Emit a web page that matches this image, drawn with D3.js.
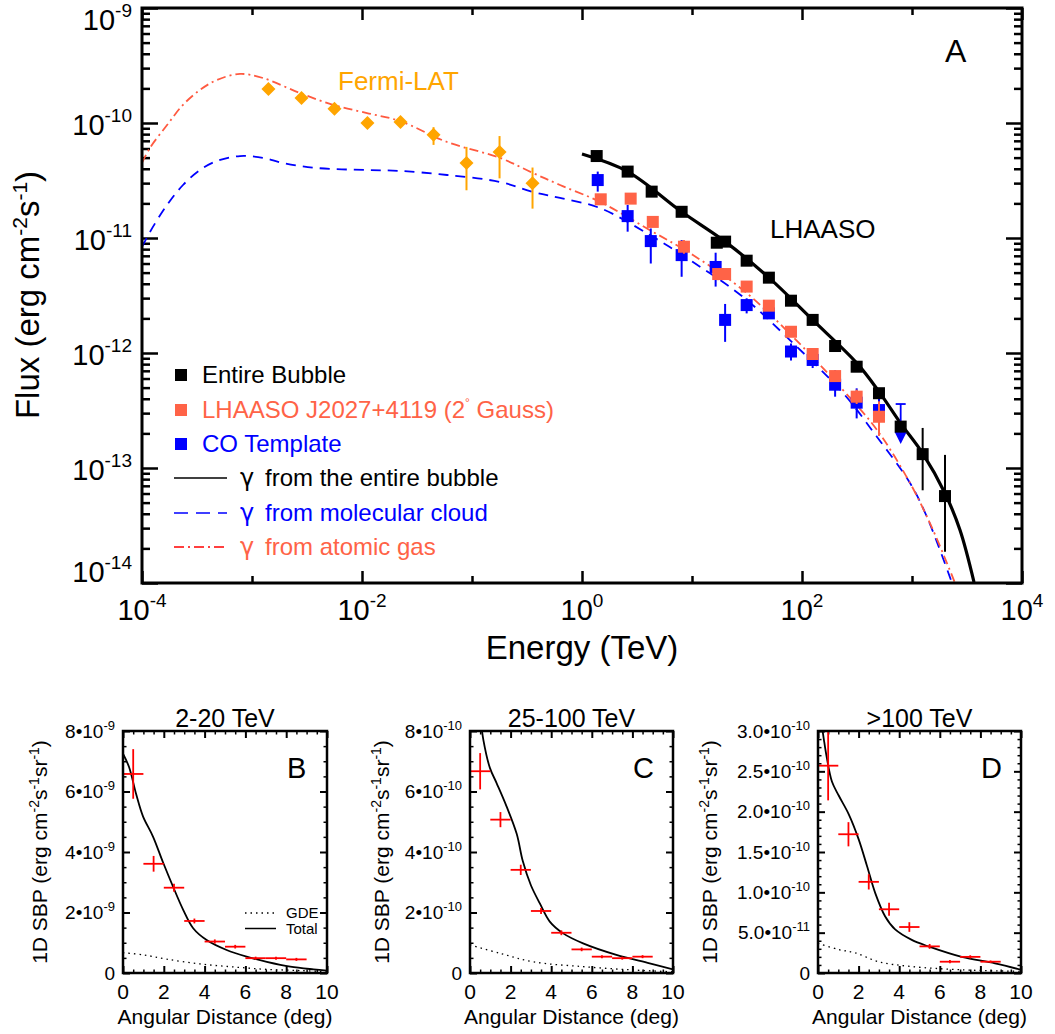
<!DOCTYPE html>
<html><head><meta charset="utf-8">
<script src="https://cdn.jsdelivr.net/npm/d3@7/dist/d3.min.js"></script>
<style>
html,body{margin:0;padding:0;background:#fff;}
svg{display:block;}
text{font-family:"Liberation Sans",Arial,Helvetica,sans-serif;fill:#000;}
</style></head>
<body>
<svg id="chart" width="1055" height="1034" xmlns="http://www.w3.org/2000/svg"></svg>
<script>
// ================= DATA =================
// Panel A : spectral energy distribution
const fermiE  = [1.41e-3, 2.82e-3, 5.62e-3, 1.12e-2, 2.24e-2, 4.47e-2, 8.91e-2, 0.178, 0.355];
const fermiF  = [1.98e-10, 1.65e-10, 1.33e-10, 1.0e-10, 1.02e-10, 7.9e-11, 4.5e-11, 5.6e-11, 3.0e-11];
const fermiLo = [1.85e-10, 1.55e-10, 1.24e-10, 0.93e-10, 0.93e-10, 6.45e-11, 2.6e-11, 3.3e-11, 1.8e-11];
const fermiHi = [2.12e-10, 1.76e-10, 1.42e-10, 1.08e-10, 1.12e-10, 9.2e-11, 6.2e-11, 7.7e-11, 4.1e-11];

const bubbleE  = [1.36, 2.6, 4.3, 8.05, 16.8, 20, 31.4, 50, 79.4, 125, 200, 314, 501, 789, 1250, 1995];
const bubbleF  = [5.16e-11, 3.78e-11, 2.53e-11, 1.69e-11, 9.1e-12, 9.3e-12, 6.35e-12, 4.52e-12, 2.85e-12, 1.94e-12, 1.15e-12, 7.6e-13, 4.47e-13, 2.29e-13, 1.32e-13, 5.7e-14];
const bubbleLo = [4.9e-11, 3.6e-11, 2.4e-11, 1.6e-11, 8.6e-12, 8.8e-12, 6.0e-12, 4.3e-12, 2.7e-12, 1.83e-12, 1.07e-12, 7.0e-13, 4.1e-13, 2.05e-13, 6.4e-14, 1.87e-14];
const bubbleHi = [5.4e-11, 3.95e-11, 2.65e-11, 1.78e-11, 9.6e-12, 9.8e-12, 6.7e-12, 4.75e-12, 3.0e-12, 2.05e-12, 1.23e-12, 8.2e-13, 4.9e-13, 2.55e-13, 2.23e-13, 1.3e-13];

const j2027E  = [1.48, 2.77, 4.4, 8.45, 17.3, 20, 31.4, 50, 79.4, 125, 200, 314, 501];
const j2027F  = [2.17e-11, 2.2e-11, 1.38e-11, 8.4e-12, 4.86e-12, 4.86e-12, 3.78e-12, 2.58e-12, 1.53e-12, 9.8e-13, 6.3e-13, 4.17e-13, 2.79e-13];
const j2027Lo = [2.0e-11, 2.05e-11, 1.27e-11, 7.3e-12, 4.3e-12, 4.5e-12, 3.5e-12, 2.4e-12, 1.42e-12, 9.0e-13, 5.7e-13, 3.6e-13, 1.9e-13];
const j2027Hi = [2.35e-11, 2.38e-11, 1.5e-11, 9.6e-12, 5.4e-12, 5.25e-12, 4.05e-12, 2.77e-12, 1.65e-12, 1.07e-12, 7.0e-13, 4.8e-13, 3.8e-13];

const coE  = [1.39, 2.6, 4.22, 8.05, 16.4, 20, 31.4, 50, 79.4, 125, 200, 314, 501];
const coF  = [3.19e-11, 1.55e-11, 9.4e-12, 7.1e-12, 5.6e-12, 1.94e-12, 2.61e-12, 2.21e-12, 1.03e-12, 8.7e-13, 5.3e-13, 3.7e-13, 3.19e-13];
const coLo = [2.53e-11, 1.135e-11, 6.0e-12, 4.6e-12, 3.78e-12, 1.25e-12, 2.21e-12, 2.0e-12, 8.6e-13, 7.4e-13, 4.17e-13, 2.7e-13, 2.3e-13];
const coHi = [3.78e-11, 1.94e-11, 1.21e-11, 9.6e-12, 7.45e-12, 2.67e-12, 2.99e-12, 2.45e-12, 1.21e-12, 9.3e-13, 7.1e-13, 4.93e-13, 4.2e-13];
const coUpperE = [789];
const coUpperF = [3.6e-13];

// model curves
const bubbleModelE = [1.0, 2.6, 8.05, 20, 50, 125, 314, 501, 789, 1250, 2000, 2730, 3660];
const bubbleModelF = [5.37e-11, 3.78e-11, 1.69e-11, 9.3e-12, 4.52e-12, 1.94e-12, 8.2e-13, 4.61e-13, 2.44e-13, 1.34e-13, 6.0e-14, 2.89e-14, 1.02e-14];

const atomicE = [1.0e-4, 1.18e-4, 1.69e-4, 2.36e-4, 3.37e-4, 4.81e-4, 7.78e-4, 1.26e-3, 2.73e-3, 5.45e-3, 1.11e-2, 2.21e-2, 5.93e-2, 0.18, 0.359, 0.631, 1.46, 4.15, 10.2, 29.1, 82.8, 236, 481, 959, 1552, 2460];
const atomicF = [4.49e-11, 6.07e-11, 9.6e-11, 1.44e-10, 1.94e-10, 2.37e-10, 2.67e-10, 2.46e-10, 1.82e-10, 1.44e-10, 1.22e-10, 1.04e-10, 6.84e-11, 4.97e-11, 3.67e-11, 2.89e-11, 2.06e-11, 1.17e-11, 7.11e-12, 3.53e-12, 1.38e-12, 4.76e-13, 2.14e-13, 7.41e-14, 2.89e-14, 1.0e-14];

const molecE = [1.0e-4, 1.18e-4, 1.69e-4, 2.36e-4, 3.37e-4, 4.81e-4, 7.78e-4, 1.26e-3, 1.91e-3, 3.9e-3, 1.11e-2, 2.21e-2, 5.93e-2, 0.18, 0.359, 0.631, 1.46, 4.15, 10.2, 29.1, 82.8, 236, 481, 959, 1368, 2312];
const molecF = [8.36e-12, 1.127e-11, 1.94e-11, 2.89e-11, 3.9e-11, 4.68e-11, 5.16e-11, 4.97e-11, 4.49e-11, 4.06e-11, 3.9e-11, 3.83e-11, 3.53e-11, 3.07e-11, 2.51e-11, 2.23e-11, 1.82e-11, 1.06e-11, 6.18e-12, 3.07e-12, 1.22e-12, 4.49e-13, 1.86e-13, 7.41e-14, 3.75e-14, 1.0e-14];

const xTickExp = ['-4', '-2', '0', '2', '4'];
const yTickExp = ['-9', '-10', '-11', '-12', '-13', '-14'];

const legendLabels = ['Entire Bubble', 'LHAASO J2027+4119 (2', 'CO Template',
  'from the entire bubble', 'from molecular cloud', 'from atomic gas'];

// Panels B-D : 1D surface brightness profiles
const sbpCenters = [0.5, 1.5, 2.5, 3.5, 4.5, 5.5, 6.5, 7.5, 8.5];
const sbpB    = [6.58e-9, 3.61e-9, 2.82e-9, 1.72e-9, 1.04e-9, 0.87e-9, 0.49e-9, 0.49e-9, 0.45e-9];
const sbpBErr = [0.82e-9, 0.26e-9, 0.13e-9, 0.08e-9, 0.07e-9, 0.06e-9, 0.05e-9, 0.05e-9, 0.05e-9];
const totalBDeg = [0, 0.3, 0.65, 0.98, 1.47, 1.96, 2.45, 2.95, 3.44, 4.1, 5.08, 6.06, 7.05, 8.2, 9.34, 10];
const totalBVal = [7.25e-9, 6.8e-9, 5.9e-9, 5.18e-9, 4.51e-9, 3.66e-9, 2.86e-9, 2.09e-9, 1.48e-9, 1.09e-9, 0.76e-9, 0.54e-9, 0.37e-9, 0.21e-9, 0.12e-9, 0.08e-9];
const gdeBDeg = [0, 1, 2.13, 3.77, 5.41, 7.05, 8.69, 10];
const gdeBVal = [0.67e-9, 0.6e-9, 0.46e-9, 0.3e-9, 0.2e-9, 0.12e-9, 0.08e-9, 0.04e-9];

const sbpC    = [6.67e-10, 5.07e-10, 3.41e-10, 2.05e-10, 1.33e-10, 0.78e-10, 0.54e-10, 0.49e-10, 0.54e-10];
const sbpCErr = [0.6e-10, 0.25e-10, 0.17e-10, 0.1e-10, 0.08e-10, 0.06e-10, 0.05e-10, 0.05e-10, 0.05e-10];
const totalCDeg = [0, 0.3, 0.66, 0.98, 1.31, 1.8, 2.3, 2.6, 3.0, 3.44, 3.93, 4.59, 5.57, 7.21, 8.85, 10];
const totalCVal = [10.5e-10, 9.5e-10, 7.7e-10, 6.78e-10, 6.28e-10, 5.51e-10, 4.6e-10, 3.7e-10, 2.9e-10, 2.3e-10, 1.7e-10, 1.31e-10, 0.98e-10, 0.6e-10, 0.32e-10, 0.12e-10];
const gdeCDeg = [0, 1.48, 3.11, 5.57, 8.03, 10];
const gdeCVal = [0.93e-10, 0.65e-10, 0.37e-10, 0.21e-10, 0.1e-10, 0.04e-10];

const sbpD    = [2.57e-10, 1.72e-10, 1.13e-10, 0.79e-10, 0.57e-10, 0.33e-10, 0.14e-10, 0.20e-10, 0.14e-10];
const sbpDErr = [0.43e-10, 0.15e-10, 0.095e-10, 0.08e-10, 0.06e-10, 0.03e-10, 0.02e-10, 0.02e-10, 0.015e-10];
const totalDDeg = [0, 0.28, 0.44, 0.69, 1.02, 1.51, 2.0, 2.41, 2.82, 3.31, 3.8, 4.62, 5.44, 7.08, 8.72, 10];
const totalDVal = [3.4e-10, 2.91e-10, 2.66e-10, 2.37e-10, 2.2e-10, 1.97e-10, 1.66e-10, 1.33e-10, 0.99e-10, 0.70e-10, 0.54e-10, 0.41e-10, 0.33e-10, 0.20e-10, 0.12e-10, 0.04e-10];
const gdeDDeg = [0, 1.02, 1.84, 2.98, 4.62, 7.08, 10];
const gdeDVal = [0.37e-10, 0.29e-10, 0.25e-10, 0.14e-10, 0.08e-10, 0.04e-10, 0.02e-10];

const tickB = [0, 2e-9, 4e-9, 6e-9, 8e-9];
const tickBLabels = [['0', ''], ['2•10', '-9'], ['4•10', '-9'], ['6•10', '-9'], ['8•10', '-9']];
const tickC = [0, 2e-10, 4e-10, 6e-10, 8e-10];
const tickCLabels = [['0', ''], ['2•10', '-10'], ['4•10', '-10'], ['6•10', '-10'], ['8•10', '-10']];
const tickD = [0, 0.5e-10, 1.0e-10, 1.5e-10, 2.0e-10, 2.5e-10, 3.0e-10];
const tickDLabels = [['0', ''], ['5.0•10', '-11'], ['1.0•10', '-10'], ['1.5•10', '-10'], ['2.0•10', '-10'], ['2.5•10', '-10'], ['3.0•10', '-10']];
const distTicks = [0, 2, 4, 6, 8, 10];

// ================= DRAWING =================
const svg = d3.select('#chart');
svg.append('rect').attr('width', 1055).attr('height', 1034).attr('fill', '#fff');
const defs = svg.append('defs');

function rich(t, segs, size, supSize, raise) {
  let cur = 0;
  segs.forEach(s => {
    const off = s[1] ? -raise : 0;
    t.append('tspan').attr('dy', off - cur).attr('font-size', s[1] ? supSize : size).text(s[0]);
    cur = off;
  });
  return t;
}
function ticksOn(g, gen, tr, vals, size, sw) {
  const a = g.append('g').attr('transform', tr)
    .call(gen.tickValues(vals).tickSize(size).tickSizeOuter(0).tickFormat(''));
  a.select('.domain').remove();
  a.selectAll('line').attr('stroke', '#000').attr('stroke-width', sw);
}

// ---------- Panel A ----------
const M = {l: 142, r: 1022, t: 8, b: 583};
const x = d3.scaleLog().domain([1e-4, 1e4]).range([M.l, M.r]);
const y = d3.scaleLog().domain([1e-14, 1e-9]).range([M.b, M.t]);
const A = svg.append('g');
defs.append('clipPath').attr('id', 'clipA').append('rect')
  .attr('x', M.l).attr('y', M.t).attr('width', M.r - M.l).attr('height', M.b - M.t);

const xMajor = xTickExp.map(e => Math.pow(10, +e));
const xMinor = [1e-3, 1e-1, 1e1, 1e3];
const yMajor = yTickExp.map(e => Math.pow(10, +e));
const yMinor = [];
yMajor.slice(1).forEach(d => { for (let k = 2; k <= 9; k++) yMinor.push(d * k); });

ticksOn(A, d3.axisBottom(x), `translate(0,${M.b})`, xMajor, -12, 2.5);
ticksOn(A, d3.axisBottom(x), `translate(0,${M.b})`, xMinor, -7, 2.5);
ticksOn(A, d3.axisTop(x), `translate(0,${M.t})`, xMajor, -12, 2.5);
ticksOn(A, d3.axisTop(x), `translate(0,${M.t})`, xMinor, -7, 2.5);
ticksOn(A, d3.axisLeft(y), `translate(${M.l},0)`, yMajor, -16, 2.5);
ticksOn(A, d3.axisLeft(y), `translate(${M.l},0)`, yMinor, -8, 2.5);
ticksOn(A, d3.axisRight(y), `translate(${M.r},0)`, yMajor, -16, 2.5);
ticksOn(A, d3.axisRight(y), `translate(${M.r},0)`, yMinor, -8, 2.5);

// tick labels
xMajor.forEach((v, i) => {
  rich(A.append('text').attr('x', x(v)).attr('y', 620).attr('text-anchor', 'middle'),
    [['10', false], [xTickExp[i], true]], 29, 19, 13);
});
yMajor.forEach((v, i) => {
  const by = Math.min(Math.max(y(v) + 12, 30), 582);
  rich(A.append('text').attr('x', 132).attr('y', by).attr('text-anchor', 'end'),
    [['10', false], [yTickExp[i], true]], 29, 19, 13);
});

// axis titles
A.append('text').attr('x', 582).attr('y', 659).attr('text-anchor', 'middle').attr('font-size', 33).text('Energy (TeV)');
rich(A.append('text').attr('transform', 'translate(38.5,295) rotate(-90)').attr('text-anchor', 'middle'),
  [['Flux (erg cm', false], ['-2', true], ['s', false], ['-1', true], [')', false]], 33, 21, 12);

// model curves
const lineA = d3.line().x(d => x(d[0])).y(d => y(d[1])).curve(d3.curveCatmullRom.alpha(0.5));
const curves = A.append('g').attr('clip-path', 'url(#clipA)');
curves.append('path').datum(d3.zip(molecE, molecF)).attr('d', lineA)
  .attr('fill', 'none').attr('stroke', '#0000ff').attr('stroke-width', 1.8).attr('stroke-dasharray', '10,7');
curves.append('path').datum(d3.zip(atomicE, atomicF)).attr('d', lineA)
  .attr('fill', 'none').attr('stroke', '#ff5a40').attr('stroke-width', 1.8).attr('stroke-dasharray', '9,4,2,4');
curves.append('path').datum(d3.zip(bubbleModelE, bubbleModelF)).attr('d', lineA)
  .attr('fill', 'none').attr('stroke', '#000').attr('stroke-width', 3.2);

// points helper
function pointsA(E, F, Lo, Hi, color, errColor) {
  const g = A.append('g');
  E.forEach((e, i) => {
    g.append('line').attr('x1', x(e)).attr('x2', x(e)).attr('y1', y(Lo[i])).attr('y2', y(Hi[i]))
      .attr('stroke', errColor).attr('stroke-width', 2);
  });
  E.forEach((e, i) => {
    g.append('rect').attr('x', x(e) - 6).attr('y', y(F[i]) - 6).attr('width', 12).attr('height', 12).attr('fill', color);
  });
}
// Fermi
const fG = A.append('g');
fermiE.forEach((e, i) => {
  fG.append('line').attr('x1', x(e)).attr('x2', x(e)).attr('y1', y(fermiLo[i])).attr('y2', y(fermiHi[i]))
    .attr('stroke', '#ffa500').attr('stroke-width', 2);
  fG.append('path').attr('transform', `translate(${x(e)},${y(fermiF[i])})`)
    .attr('d', 'M0,-7L7,0L0,7L-7,0Z').attr('fill', '#ffa500');
});
// CO upper limit
coUpperE.forEach((e, i) => {
  const cx = x(e), cy = y(coUpperF[i]);
  A.append('line').attr('x1', cx - 5).attr('x2', cx + 5).attr('y1', cy).attr('y2', cy).attr('stroke', '#0000ff').attr('stroke-width', 1.8);
  A.append('line').attr('x1', cx).attr('x2', cx).attr('y1', cy).attr('y2', cy + 30).attr('stroke', '#0000ff').attr('stroke-width', 1.8);
  A.append('path').attr('d', `M${cx - 6},${cy + 28}L${cx + 6},${cy + 28}L${cx},${cy + 40}Z`).attr('fill', '#0000ff');
});
pointsA(coE, coF, coLo, coHi, '#0000ff', '#0000ff');
pointsA(j2027E, j2027F, j2027Lo, j2027Hi, '#ff6347', '#ff6347');
pointsA(bubbleE, bubbleF, bubbleLo, bubbleHi, '#000', '#000');

// frame
A.append('rect').attr('x', M.l).attr('y', M.t).attr('width', M.r - M.l).attr('height', M.b - M.t)
  .attr('fill', 'none').attr('stroke', '#000').attr('stroke-width', 3);

// annotations
A.append('text').attr('x', 338).attr('y', 90).attr('font-size', 26).style('fill', '#ffa500').text('Fermi-LAT');
A.append('text').attr('x', 770).attr('y', 238).attr('font-size', 26).text('LHAASO');
A.append('text').attr('x', 945).attr('y', 62).attr('font-size', 32).text('A');

// legend
const legRows = [375, 410, 444, 478, 513, 547];
const legColors = ['#000', '#ff6347', '#0000ff', '#000', '#0000ff', '#ff6347'];
const L = A.append('g');
[0, 1, 2].forEach(i => {
  L.append('rect').attr('x', 175).attr('y', legRows[i] - 6).attr('width', 12).attr('height', 12).attr('fill', legColors[i]);
  const t = L.append('text').attr('x', 202).attr('y', legRows[i] + 8).attr('font-size', 24).style('fill', legColors[i]);
  if (i === 1) {
    t.append('tspan').text(legendLabels[i]);
    t.append('tspan').attr('dy', -11).attr('font-size', 12).text('°');
    t.append('tspan').attr('dy', 11).text(' Gauss)');
  } else t.text(legendLabels[i]);
});
const legDash = [null, '14,8', '10,4,2,4'];
const legLineColors = ['#000', '#0000ff', '#ff0000'];
[3, 4, 5].forEach((r, k) => {
  const ln = L.append('line').attr('x1', 174).attr('x2', 227).attr('y1', legRows[r]).attr('y2', legRows[r])
    .attr('stroke', legLineColors[k]).attr('stroke-width', 1.5);
  if (legDash[k]) ln.attr('stroke-dasharray', legDash[k]);
  L.append('text').attr('x', 240).attr('y', legRows[r] + 8).attr('font-size', 24)
    .style('font-family', '"DejaVu Sans", sans-serif').style('fill', legColors[r]).text('γ');
  L.append('text').attr('x', 265).attr('y', legRows[r] + 8).attr('font-size', 24).style('fill', legColors[r]).text(legendLabels[r]);
});

// ---------- Panels B, C, D ----------
const panels = [
  {id: 'B', title: '2-20 TeV', left: 123, right: 327, ymax: 8e-9, ticks: tickB, labels: tickBLabels, minor: 0.5e-9,
   data: sbpB, err: sbpBErr, tDeg: totalBDeg, tVal: totalBVal, gDeg: gdeBDeg, gVal: gdeBVal, titleX: 47, legend: true},
  {id: 'C', title: '25-100 TeV', left: 470, right: 673, ymax: 8e-10, ticks: tickC, labels: tickCLabels, minor: 0.5e-10,
   data: sbpC, err: sbpCErr, tDeg: totalCDeg, tVal: totalCVal, gDeg: gdeCDeg, gVal: gdeCVal, titleX: 389, legend: false},
  {id: 'D', title: '>100 TeV', left: 818, right: 1021, ymax: 3e-10, ticks: tickD, labels: tickDLabels, minor: 0.1e-10,
   data: sbpD, err: sbpDErr, tDeg: totalDDeg, tVal: totalDVal, gDeg: gdeDDeg, gVal: gdeDVal, titleX: 717, legend: false}
];
const PT = 731, PB = 973;
panels.forEach(p => {
  const px = d3.scaleLinear().domain([0, 10]).range([p.left, p.right]);
  const py = d3.scaleLinear().domain([0, p.ymax]).range([PB, PT]);
  const g = svg.append('g');
  defs.append('clipPath').attr('id', 'clip' + p.id).append('rect')
    .attr('x', p.left).attr('y', PT).attr('width', p.right - p.left).attr('height', PB - PT);

  const xMin = d3.range(0, 10.001, 0.5).filter(v => v % 2 !== 0);
  const yMin = d3.range(0, p.ymax * 1.0001, p.minor).filter(v => !p.ticks.some(t => Math.abs(t - v) < p.minor * 0.01));
  ticksOn(g, d3.axisBottom(px), `translate(0,${PB})`, distTicks, -7, 2);
  ticksOn(g, d3.axisBottom(px), `translate(0,${PB})`, xMin, -3.5, 1.5);
  ticksOn(g, d3.axisTop(px), `translate(0,${PT})`, distTicks, -7, 2);
  ticksOn(g, d3.axisTop(px), `translate(0,${PT})`, xMin, -3.5, 1.5);
  ticksOn(g, d3.axisLeft(py), `translate(${p.left},0)`, p.ticks, -7, 2);
  ticksOn(g, d3.axisLeft(py), `translate(${p.left},0)`, yMin, -3.5, 1.5);
  ticksOn(g, d3.axisRight(py), `translate(${p.right},0)`, p.ticks, -7, 2);
  ticksOn(g, d3.axisRight(py), `translate(${p.right},0)`, yMin, -3.5, 1.5);

  const ln = d3.line().x(d => px(d[0])).y(d => py(d[1])).curve(d3.curveCatmullRom.alpha(0.5));
  const cg = g.append('g').attr('clip-path', `url(#clip${p.id})`);
  cg.append('path').datum(d3.zip(p.gDeg, p.gVal)).attr('d', ln).attr('fill', 'none')
    .attr('stroke', '#000').attr('stroke-width', 1.3).attr('stroke-dasharray', '1.5,4');
  cg.append('path').datum(d3.zip(p.tDeg, p.tVal)).attr('d', ln).attr('fill', 'none')
    .attr('stroke', '#000').attr('stroke-width', 1.8);
  sbpCenters.forEach((c, i) => {
    cg.append('line').attr('x1', px(c - 0.5)).attr('x2', px(c + 0.5)).attr('y1', py(p.data[i])).attr('y2', py(p.data[i]))
      .attr('stroke', '#ff0000').attr('stroke-width', 1.8);
    cg.append('line').attr('x1', px(c)).attr('x2', px(c)).attr('y1', py(p.data[i] - p.err[i])).attr('y2', py(p.data[i] + p.err[i]))
      .attr('stroke', '#ff0000').attr('stroke-width', 1.8);
  });

  g.append('rect').attr('x', p.left).attr('y', PT).attr('width', p.right - p.left).attr('height', PB - PT)
    .attr('fill', 'none').attr('stroke', '#000').attr('stroke-width', 2.5);

  // labels
  distTicks.forEach(v => g.append('text').attr('x', px(v)).attr('y', 998.5).attr('text-anchor', 'middle').attr('font-size', 21).text(v));
  p.ticks.forEach((v, i) => {
    const lab = p.labels[i];
    const t = g.append('text').attr('x', p.left - 8).attr('y', py(v) + 6.5).attr('text-anchor', 'end');
    if (lab[1]) rich(t, [[lab[0], false], [lab[1], true]], 19, 13, 8);
    else t.attr('font-size', 19).text(lab[0]);
  });
  g.append('text').attr('x', (p.left + p.right) / 2).attr('y', 1023.5).attr('text-anchor', 'middle').attr('font-size', 21)
    .text('Angular Distance (deg)');
  rich(g.append('text').attr('transform', `translate(${p.titleX},${(PT + PB) / 2}) rotate(-90)`).attr('text-anchor', 'middle'),
    [['1D SBP (erg cm', false], ['-2', true], ['s', false], ['-1', true], ['sr', false], ['-1', true], [')', false]], 21, 14, 8);
  g.append('text').attr('x', (p.left + p.right) / 2).attr('y', 727).attr('text-anchor', 'middle').attr('font-size', 25).text(p.title);
  g.append('text').attr('x', p.right - 40).attr('y', 778).attr('font-size', 29).text(p.id);

  if (p.legend) {
    g.append('line').attr('x1', 245).attr('x2', 276).attr('y1', 913).attr('y2', 913)
      .attr('stroke', '#000').attr('stroke-width', 1.3).attr('stroke-dasharray', '1.5,4');
    g.append('line').attr('x1', 245).attr('x2', 276).attr('y1', 928.5).attr('y2', 928.5)
      .attr('stroke', '#000').attr('stroke-width', 1.5);
    g.append('text').attr('x', 286).attr('y', 918).attr('font-size', 15).text('GDE');
    g.append('text').attr('x', 286).attr('y', 934).attr('font-size', 15).text('Total');
  }
});
</script>
</body></html>
